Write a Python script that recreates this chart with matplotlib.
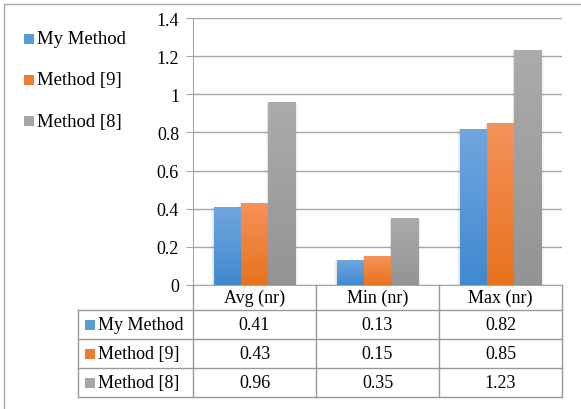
import matplotlib.pyplot as plt
import numpy as np
from matplotlib.colors import LinearSegmentedColormap
from matplotlib.patches import Rectangle

categories = ["Avg (nr)", "Min (nr)", "Max (nr)"]
series_names = ["My Method", "Method [9]", "Method [8]"]
my_method = [0.41, 0.13, 0.82]
method_9 = [0.43, 0.15, 0.85]
method_8 = [0.96, 0.35, 1.23]
yticks = [0, 0.2, 0.4, 0.6, 0.8, 1.0, 1.2, 1.4]

series_values = [my_method, method_9, method_8]
# (top colour, bottom colour) for the Excel-style gradient fill
grad_colors = [("#70a6de", "#4189d0"), ("#f4935a", "#e9711d"), ("#ababab", "#949494")]
legend_colors = ["#5b9bd5", "#ed7d31", "#a5a5a5"]

W, H = 581, 410
plt.rcParams["font.family"] = ["Liberation Serif", "DejaVu Serif"]
fig = plt.figure(figsize=(W / 100, H / 100), dpi=100)


def fx(px):
    return px / W


def fy(py):
    return 1 - py / H


ax_left, ax_right, ax_top, ax_bottom = 193, 562, 19, 286
ax = fig.add_axes([fx(ax_left), fy(ax_bottom), fx(ax_right - ax_left), fy(ax_top) - fy(ax_bottom)])

x = np.arange(len(categories))
bar_w = 0.222
offsets = [-bar_w, 0, bar_w]

for vals, off, (c_top, c_bot) in zip(series_values, offsets, grad_colors):
    bars = ax.bar(x + off, vals, width=bar_w, color=c_bot, zorder=3, linewidth=0)
    cmap = LinearSegmentedColormap.from_list("g", [c_bot, c_top])
    for b in bars:
        x0, y0 = b.get_x(), b.get_y()
        bw, bh = b.get_width(), b.get_height()
        # soft drop shadow
        for k, a in zip([0.04, 0.026, 0.013], [0.025, 0.035, 0.045]):
            ax.add_patch(Rectangle((x0 - k * 0.5, y0), bw + k, bh - 0.004,
                                   color="black", alpha=a, lw=0, zorder=2))
        grad = np.linspace(0, 1, 64).reshape(-1, 1)
        im = ax.imshow(grad, extent=[x0, x0 + bw, y0, y0 + bh], origin="lower",
                       cmap=cmap, aspect="auto", zorder=3.5, interpolation="bicubic")
        im.set_clip_path(b)

ax.set_xlim(-0.5, 2.5)
ax.set_ylim(0, 1.4)
ax.set_yticks(yticks)
ax.set_yticklabels([f"{v:g}" for v in yticks], fontsize=13)
ax.set_xticks([])
ax.grid(axis="y", color="#a6a6a6", lw=1, zorder=1)
ax.set_axisbelow(True)
for s in ["top", "right"]:
    ax.spines[s].set_visible(False)
for s in ["left", "bottom"]:
    ax.spines[s].set_color("#a6a6a6")
ax.tick_params(axis="y", length=5, color="#a6a6a6", pad=5)

# left legend
leg_y = [40, 81, 122]
for name, col, py in zip(series_names, legend_colors, leg_y):
    fig.patches.append(Rectangle((fx(24), fy(py + 5)), fx(10), fy(0) - fy(10),
                                 transform=fig.transFigure, color=col, lw=0))
    fig.text(fx(37), fy(py), name, fontsize=13.5, va="center", ha="left")

# data table
line_c = "#999999"
col_x = [193, 316, 439, 562]
row_y = [286, 311, 340, 369, 398]
tab_left = 78


def hline(y, x0, x1):
    fig.add_artist(plt.Line2D([fx(x0), fx(x1)], [fy(y), fy(y)], color=line_c, lw=1))


def vline(x_, y0, y1):
    fig.add_artist(plt.Line2D([fx(x_), fx(x_)], [fy(y0), fy(y1)], color=line_c, lw=1))


for yy in row_y[1:]:
    hline(yy, tab_left, col_x[-1])
vline(tab_left, row_y[1], row_y[-1])
for xx in col_x:
    vline(xx, row_y[0], row_y[-1])

for i, cat in enumerate(categories):
    cx = (col_x[i] + col_x[i + 1]) / 2
    fig.text(fx(cx), fy((row_y[0] + row_y[1]) / 2), cat, fontsize=13, ha="center", va="center")

for r, (name, col, vals) in enumerate(zip(series_names, legend_colors, series_values)):
    cy = (row_y[r + 1] + row_y[r + 2]) / 2
    fig.patches.append(Rectangle((fx(85), fy(cy + 5)), fx(10), fy(0) - fy(10),
                                 transform=fig.transFigure, color=col, lw=0))
    fig.text(fx(98), fy(cy), name, fontsize=13, ha="left", va="center")
    for i, v in enumerate(vals):
        cx = (col_x[i] + col_x[i + 1]) / 2
        fig.text(fx(cx), fy(cy), f"{v:.2f}", fontsize=13, ha="center", va="center")

# outer chart frame (runs off the right and bottom edges)
fig.patches.append(Rectangle((fx(4), fy(H + 20)), fx(W), fy(5) - fy(H + 20),
                             transform=fig.transFigure, fill=False, ec="#a6a6a6", lw=1))

fig.savefig("out.png", dpi=100)
